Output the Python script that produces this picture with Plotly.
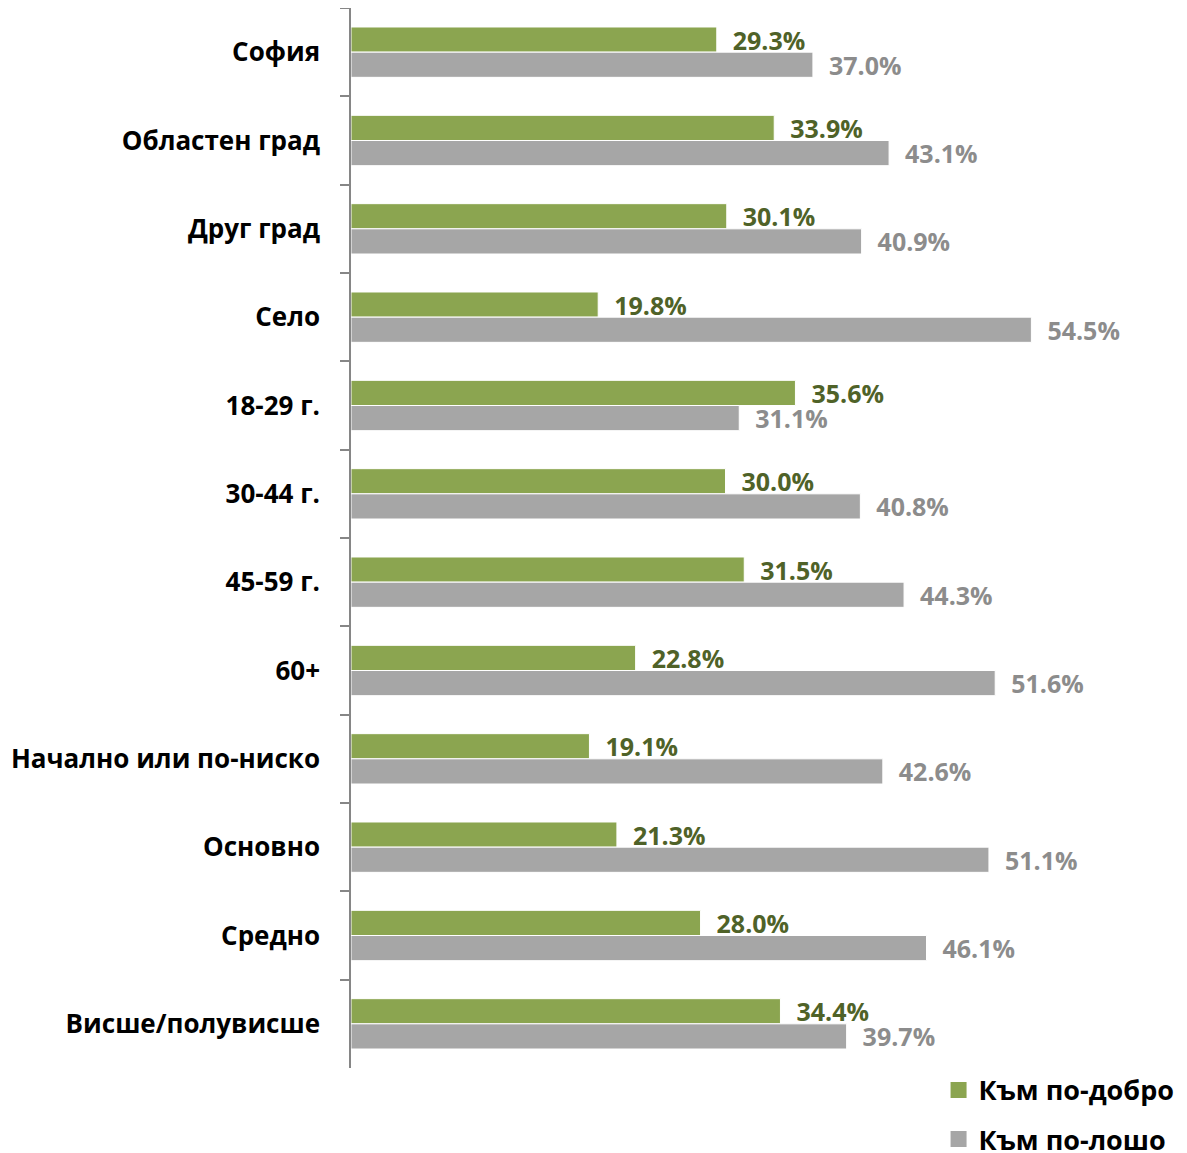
import plotly.graph_objects as go

categories = ["София", "Областен град", "Друг град", "Село", "18-29 г.", "30-44 г.",
              "45-59 г.", "60+", "Начално или по-ниско", "Основно", "Средно", "Висше/полувисше"]
better = [29.3, 33.9, 30.1, 19.8, 35.6, 30.0, 31.5, 22.8, 19.1, 21.3, 28.0, 34.4]
worse = [37.0, 43.1, 40.9, 54.5, 31.1, 40.8, 44.3, 51.6, 42.6, 51.1, 46.1, 39.7]
series_names = ["Към по-добро", "Към по-лошо"]
colors = ["#8BA550", "#A6A6A6"]
text_colors = ["#4F6228", "#8C8C8C"]

FONT = "Open Sans"
fig = go.Figure()
for name, vals, c, tc in zip(series_names, [better, worse], colors, text_colors):
    fig.add_trace(go.Bar(
        y=categories, x=vals, orientation="h", name=name, showlegend=False,
        marker=dict(color=c, line=dict(color="white", width=1)),
        text=[f"\u00a0\u00a0{v:.1f}%" for v in vals], textposition="outside",
        constraintext="none",
        textfont=dict(family=FONT, size=25, color=tc, weight="bold"),
        cliponaxis=False,
    ))
# legend entries with larger square swatches
for name, c in zip(series_names, colors):
    fig.add_trace(go.Scatter(
        x=[None], y=[None], mode="markers", name=name, legendgroup=name,
        marker=dict(symbol="square", size=18, color=c),
    ))

# page body has an 8px margin, so the figure is offset by (8, 8)
fig.update_layout(
    width=1179, height=1145,
    margin=dict(l=343, r=37, t=0, b=85, autoexpand=False),
    paper_bgcolor="white", plot_bgcolor="white",
    barmode="group", bargap=0.43, bargroupgap=0,
    font=dict(family=FONT, color="black"),
    showlegend=True,
    legend=dict(x=1.037, xanchor="right", y=0.002, yanchor="top",
                font=dict(family=FONT, size=27, color="black", weight="bold"),
                traceorder="grouped", tracegroupgap=11, itemwidth=30,
                bgcolor="rgba(0,0,0,0)"),
)
fig.update_xaxes(range=[0, 64], visible=False, showgrid=False, zeroline=False)
fig.update_yaxes(
    autorange="reversed", type="category", automargin=False,
    showline=True, linecolor="#868686", linewidth=1.5,
    ticks="outside", ticklen=9, tickcolor="#868686", tickwidth=1.5,
    tickson="boundaries", showgrid=False,
    tickfont=dict(family=FONT, size=26, color="black", weight="bold"),
    ticklabelstandoff=24,
)

fig.write_html("out.html")
